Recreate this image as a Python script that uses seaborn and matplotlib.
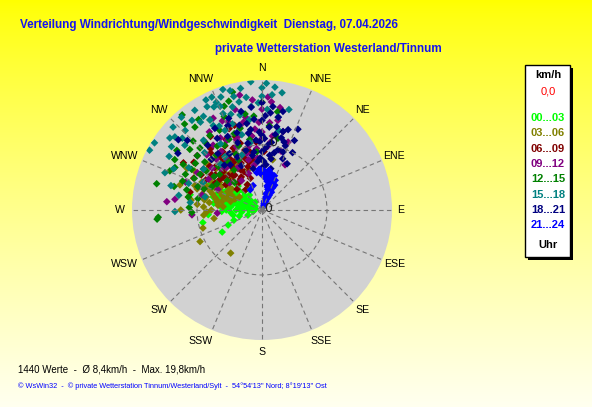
import seaborn as sns
import matplotlib.pyplot as plt
import numpy as np
import pandas as pd

# wind direction (deg, clockwise from N) and speed (km/h) per 3-hour block
hours = ["00...03", "03...06", "06...09", "09...12", "12...15", "15...18", "18...21", "21...24"]
colors = ["#00ff00", "#808000", "#800000", "#800080", "#008000", "#008080", "#000080", "#0000ff"]

h00 = [(280,1.0),(300,1.2),(260,1.4),(320,1.6),(290,1.8),(270,2.0),(310,2.2),(250,2.3),(285,2.5),(300,2.7),
       (275,2.9),(320,3.0),(265,3.1),(290,3.3),(305,3.4),(280,3.6),(295,3.8),(270,4.0),(315,4.0),(285,4.2),
       (300,4.4),(260,4.5),(290,4.7),(275,4.9),(305,5.0),(285,5.2),(295,5.4),(270,5.5),(280,5.8),(290,6.0),
       (300,6.2),(275,6.4),(285,6.6),(295,6.8),(280,7.0),(290,7.3),(300,7.5),(285,7.8),(310,6.5),(320,5.5),
       (330,4.5),(250,4.6),(246,5.7),(241,7.0),(258,9.3),(282,11.3),(265,8.3),(295,9.0),(305,8.0),
       (285,1.5),(295,2.0),(305,2.6),(278,3.0),(288,2.8),(310,3.5),(270,3.4),(282,4.5),(292,5.0),(302,5.6),
       (278,5.5),(288,6.2),(298,5.0),(310,4.6),(265,4.8),(282,6.8),(292,6.5),(305,6.8),(278,7.5),(288,7.0),
       (296,7.8),(315,5.2),(325,4.0),(255,3.6),(268,6.2)]
h03 = [(285,5.0),(295,5.5),(275,6.0),(305,6.2),(290,6.5),(280,7.0),(300,7.2),(285,7.5),(270,7.8),(295,8.0),
       (310,8.2),(290,8.5),(280,9.0),(300,9.2),(285,9.5),(275,10.0),(295,10.2),(305,10.5),(290,11.0),(280,11.5),
       (300,12.0),(287,13.2),(299,13.2),(253,9.5),(243,10.7),(216,8.2),(265,9.0),(260,7.5),(315,7.0),(320,9.0),
       (12,7.9),(330,8.0),(340,6.5),(270,12.5),(292,4.5),(300,4.0),
       (288,5.8),(298,6.0),(282,6.3),(308,6.8),(293,7.0),(303,7.8),(278,8.2),(288,8.0),(298,8.6),(306,9.0),
       (283,8.8),(293,9.2),(273,9.0),(312,9.5),(298,9.8),(288,10.5),(283,7.2),(296,5.2),(305,5.6),(276,6.8),
       (268,8.5),(278,11.0),(310,11.0),(315,8.0),(322,7.5)]
h06 = [(320,4.0),(330,4.5),(310,5.0),(340,5.2),(325,5.8),(315,6.2),(335,6.5),(305,6.8),(320,7.0),(330,7.4),
       (345,7.6),(310,7.8),(325,8.0),(300,8.3),(335,8.5),(318,8.8),(340,9.0),(307,9.0),(328,9.3),(344,9.6),
       (312,9.8),(322,10.2),(335,10.5),(300,10.8),(315,11.0),(330,11.4),(295,11.6),(340,12.0),(320,12.3),(305,12.8),
       (342,13.7),(338,13.5),(301,14.1),(284,11.4),(290,9.5),(350,8.0),(355,10.5),(2,9.0),(310,13.0),(325,13.8),
       (318,5.5),(328,6.0),(338,6.0),(312,6.5),(322,6.8),(332,7.0),(342,7.0),(316,7.4),(326,7.7),(336,7.9),
       (306,8.0),(314,8.4),(330,8.6),(342,8.3),(320,9.5),(334,9.8),(305,9.5),(348,9.2),(326,10.8),(310,10.5),
       (342,10.8),(318,11.8),(333,12.2),(298,9.8),(352,11.5)]
h09 = [(340,6.0),(350,7.0),(330,7.5),(355,8.0),(320,8.5),(345,9.0),(335,9.5),(5,9.8),(310,10.0),(350,10.5),
       (325,11.0),(340,11.5),(0,12.0),(315,12.0),(355,12.5),(330,12.8),(345,13.2),(5,13.5),(320,13.8),(338,14.0),
       (350,14.5),(339,14.5),(332,16.0),(349,18.0),(3,17.4),(5,16.7),(0,15.5),(10,14.0),(15,12.5),(21,11.2),
       (27,7.8),(18,9.5),(275,14.7),(277,13.5),(284,9.5),(266,6.9),(266,10.8),(300,11.5),(290,12.5),(305,9.0),
       (295,7.5),(310,6.5),(325,5.5),(360,11.0),(8,11.5),
       (345,8.0),(335,8.5),(325,9.5),(315,9.0),(355,9.5),(348,10.0),(338,10.5),(328,10.0),(318,10.5),(305,11.0),
       (352,11.5),(343,12.0),(333,12.0),(323,12.5),(310,13.0),(358,13.5),(348,13.8),(336,15.0),(326,14.5),(345,16.0),
       (355,17.0),(10,16.0),(7,10.5),(300,9.5),(290,10.5)]
h12 = [(300,8.0),(310,8.5),(320,9.0),(290,9.5),(330,10.0),(305,10.5),(315,11.0),(295,11.5),(325,12.0),(340,12.5),
       (285,12.0),(310,13.0),(320,13.5),(300,14.0),(332,13.9),(321,16.4),(346,18.7),(343,17.5),(320,19.1),(296,14.9),
       (293,15.4),(284,16.7),(266,16.0),(265,16.2),(268,10.8),(272,11.2),(0,16.6),(9,15.3),(12.5,11.3),(5,13.0),
       (355,14.5),(350,11.0),(335,8.5),(345,9.5),(280,10.0),(290,13.0),(305,16.0),(315,15.0),(325,17.0),(338,15.5),
       (300,12.5),(310,7.0),(325,7.5),(315,6.0),(355,9.0),
       (295,8.5),(305,9.0),(315,9.5),(325,9.0),(335,9.5),(290,10.5),(300,11.0),(310,11.5),(320,11.0),(330,11.5),
       (340,10.5),(295,13.0),(305,12.5),(315,13.5),(325,14.0),(335,12.0),(345,13.0),(300,15.5),(310,14.5),(285,14.0),
       (280,11.5),(350,15.0),(330,16.0),(340,17.0),(318,17.8)]
h15 = [(302,19.5),(298,19.6),(355,19.8),(345,19.0),(340,18.5),(335,17.5),(338,16.0),(330,15.0),(342,15.5),(348,17.0),
       (333,19.0),(337,18.0),(0,18.8),(0,17.5),(5,17.8),(9.7,18.3),(9.8,14.5),(3,15.5),(358,16.5),(352,14.0),
       (269,13.4),(291,16.0),(313,18.7),(319,18.9),(276,11.1),(325,16.5),(320,14.0),(310,15.5),(315,12.5),(328,12.0),
       (300,13.0),(305,11.0),(290,12.0),(283,9.0),(345,12.0),(335,13.5),(350,10.5),(15,16.0),(12,12.5),(325,10.0),
       (310,17.5),(285,14.5),(318,9.5),(340,9.0),(295,10.0),
       (328,17.0),(332,18.0),(336,19.0),(342,19.5),(346,18.0),(350,19.0),(352,17.5),(344,16.5),(338,17.2),(330,16.0),
       (326,18.5),(322,17.5),(316,17.0),(312,16.5),(308,18.0),(305,17.0),(333,14.5),(341,14.0),(347,15.0),(354,16.0),
       (2,19.5),(6,19.0),(300,16.5),(295,15.0),(280,13.0)]
h18 = [(0,6.5),(5,7.0),(355,7.5),(10,8.0),(350,8.5),(0,9.0),(15,9.6),(345,9.5),(5,10.0),(20,10.5),
       (355,10.8),(0,11.5),(10,11.8),(340,11.0),(350,12.0),(5,12.8),(15,12.5),(0,13.8),(355,14.0),(24,13.6),
       (28.5,8.1),(22,8.5),(18,11.0),(335,12.5),(330,10.0),(325,8.5),(345,13.5),(354,15.9),(5,15.0),(310,16.8),
       (313,15.7),(304,15.6),(320,13.0),(315,11.0),(335,7.5),(340,15.0),(10,14.5),(25,11.8),(3,9.5),(358,8.0),
       (348,6.5),(12,6.5),(360,16.5),(330,14.5),(320,9.0),
       (2,7.5),(8,8.5),(352,9.0),(12,9.0),(358,10.5),(8,10.5),(348,10.5),(2,11.0),(15,11.5),(352,12.5),
       (358,12.0),(10,13.0),(342,12.5),(2,14.5),(350,13.5),(18,13.0),(6,16.0),(348,15.5),(338,14.0),(328,13.0),
       (322,11.0),(335,9.0),(20,9.5),(28,10.0),(12,15.5)]
h21 = [(20,0.5),(22,0.8),(18,1.0),(25,1.2),(15,1.4),(20,1.6),(24,1.9),(17,2.1),(21,2.3),(26,2.5),
       (14,2.6),(19,2.8),(23,3.0),(28,3.1),(16,3.3),(21,3.5),(25,3.7),(12,3.8),(18,4.0),(22,4.2),
       (27,4.3),(10,4.5),(15,4.6),(20,4.8),(24,5.0),(5,5.0),(12,5.2),(17,5.4),(2,5.5),(8,5.7),
       (14,5.8),(358,5.6),(4,6.0),(10,6.2),(352,5.8),(356,6.3),(340,4.0),(330,3.6),
       (19,1.2),(23,1.5),(16,1.8),(21,2.0),(25,2.2),(18,2.5),(22,2.7),(24,3.3),(19,3.2),(14,3.6),
       (20,3.9),(26,4.0),(16,4.3),(22,4.6),(18,5.1),(13,4.9),(9,5.4),(20,5.6),(6,5.8),(1,6.1)]

compass = ["N", "NNE", "NE", "ENE", "E", "ESE", "SE", "SSE", "S", "SSW", "SW", "WSW", "W", "WNW", "NW", "NNW"]
# small sideways nudges of the compass labels (pixels)
compass_dx = [0, 4, 0, 1, -3, 1, 0, 5, 0, -7, -3, -6, 0, -6, -3, -7]

rows = []
for name, pts in zip(hours, [h00, h03, h06, h09, h12, h15, h18, h21]):
    for d, s in pts:
        rows.append({"theta": np.deg2rad(d), "speed": s, "hour": name})
df = pd.DataFrame(rows)

W, H = 592, 407
fig = plt.figure(figsize=(W / 100, H / 100), dpi=100)

def px(x, y):
    return x / W, 1 - y / H

# yellow gradient background
bg = fig.add_axes([0, 0, 1, 1])
grad = np.linspace(0, 1, 256)[:, None]
top = np.array([1.0, 1.0, 0.0])
bot = np.array([1.0, 1.0, 0.94])
img = top + (bot - top) * grad[..., None] ** 0.8
bg.imshow(img, aspect="auto", extent=[0, 1, 0, 1])
bg.axis("off")

cx, cy, R = 262, 210, 130
ax = fig.add_axes([(cx - R) / W, (H - cy - R) / H, 2 * R / W, 2 * R / H], projection="polar")
ax.set_facecolor("#d2d2d2")
ax.set_theta_zero_location("N")
ax.set_theta_direction(-1)
ax.spines["polar"].set_visible(False)

sns.scatterplot(data=df, x="theta", y="speed", hue="hour", hue_order=hours,
                palette=colors, marker="D", s=15, linewidth=0, legend=False, ax=ax)

ax.set_ylim(0, 20)
ax.set_yticks([10])
ax.set_yticklabels([])
ax.set_xticks(np.deg2rad(np.arange(0, 360, 22.5)))
ax.set_xticklabels([])
ax.grid(True, color="#767676", linestyle=(0, (4, 3)), linewidth=0.8)
ax.set_xlabel("")
ax.set_ylabel("")

for i, lab in enumerate(compass):
    ax.annotate(lab, (np.deg2rad(i * 22.5), 21.85), xytext=(compass_dx[i] * 0.72, 0),
                textcoords="offset points", ha="center", va="center",
                fontsize=7.6, family="Liberation Sans", annotation_clip=False)
ax.text(np.deg2rad(80), 1.0, "0", ha="center", va="center", fontsize=9, color="#202020")
ax.text(np.deg2rad(9.5), 10.5, "0", ha="center", va="center", fontsize=9, color="#202020")

fig.text(*px(20, 25), "Verteilung Windrichtung/Windgeschwindigkeit  Dienstag, 07.04.2026",
         color="#1414f0", fontsize=8.4, fontweight="bold", family="Liberation Sans", va="center")
fig.text(*px(215, 49), "private Wetterstation Westerland/Tinnum",
         color="#1414f0", fontsize=8.4, fontweight="bold", family="Liberation Sans", va="center")

# legend box with shadow
shadow = plt.Rectangle(px(528, 260), 45 / W, 192 / H, transform=fig.transFigure,
                       facecolor="black", edgecolor="none")
box = plt.Rectangle(px(525, 257), 45 / W, 192 / H, transform=fig.transFigure,
                    facecolor="white", edgecolor="black", linewidth=1)
fig.add_artist(shadow)
fig.add_artist(box)
lx = 548
fig.text(*px(lx, 75), "km/h", ha="center", va="center", fontsize=8, fontweight="bold", family="Liberation Sans")
fig.text(*px(lx, 92), "0,0", ha="center", va="center", fontsize=8, color="red", family="Liberation Sans")
for i, (name, col) in enumerate(zip(hours, colors)):
    fig.text(*px(lx, 118 + i * 15.3), name, ha="center", va="center", fontsize=8,
             fontweight="bold", color=col, family="Liberation Sans")
fig.text(*px(lx, 245), "Uhr", ha="center", va="center", fontsize=8, fontweight="bold", family="Liberation Sans")

fig.text(*px(18, 369), "1440 Werte  -  \u00d8 8,4km/h  -  Max. 19,8km/h",
         fontsize=7.0, va="center", family="Liberation Sans")
fig.text(*px(18, 386), "\u00a9 WsWin32  -  \u00a9 private Wetterstation Tinnum/Westerland/Sylt  -  54\u00b054'13'' Nord; 8\u00b019'13'' Ost",
         fontsize=5.3, va="center", color="#0000ff", family="Liberation Sans")

fig.savefig("out.png", dpi=100)
